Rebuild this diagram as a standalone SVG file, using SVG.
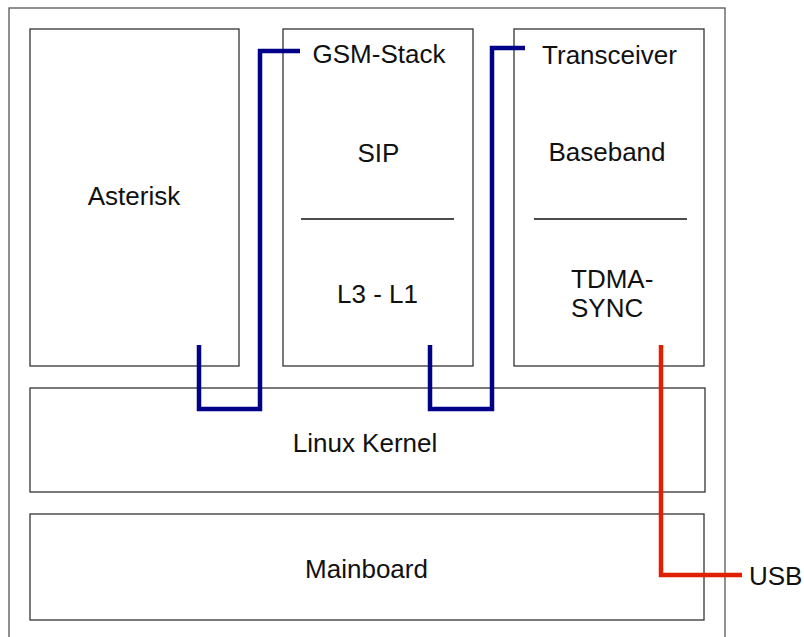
<svg xmlns="http://www.w3.org/2000/svg" width="804" height="637" viewBox="0 0 804 637">
<style>
.box{fill:#fff;stroke:#333;stroke-width:1.3}
.frame{fill:#fff;stroke:#555;stroke-width:1.3}
.div{stroke:#111;stroke-width:1.3}
text{font-family:"Liberation Sans",Arial,sans-serif;font-size:26px;fill:#111}
.c{text-anchor:middle}
.blue{fill:none;stroke:#000088;stroke-width:4.5}
.red{fill:none;stroke:#e02000;stroke-width:4.5}
</style>
<rect width="804" height="637" fill="#fff"/>
<g id="frame"><rect class="frame" x="9" y="8" width="716" height="640"/></g>
<g id="asterisk"><rect class="box" x="30" y="29" width="209" height="337"/><text class="c" x="134" y="205">Asterisk</text></g>
<g id="gsm-stack"><rect class="box" x="283" y="29" width="190" height="337"/>
<text class="c" x="379" y="63">GSM-Stack</text>
<text class="c" x="378.5" y="162">SIP</text>
<line class="div" x1="301" y1="219" x2="454" y2="219"/>
<text class="c" x="377.5" y="303">L3 - L1</text></g>
<g id="transceiver"><rect class="box" x="514" y="29" width="190" height="337"/>
<text class="c" x="609.5" y="64">Transceiver</text>
<text class="c" x="607" y="161">Baseband</text>
<line class="div" x1="534" y1="219" x2="687" y2="219"/>
<text x="571" y="288">TDMA-</text>
<text x="571" y="317">SYNC</text></g>
<g id="linux-kernel"><rect class="box" x="30" y="388" width="675" height="104"/><text class="c" x="365" y="452">Linux Kernel</text></g>
<g id="mainboard"><rect class="box" x="30" y="514" width="674" height="106"/><text class="c" x="366.5" y="578">Mainboard</text></g>
<g id="connectors">
<polyline class="blue" points="199,345 199,409 260,409 260,51 300,51"/>
<polyline class="blue" points="430,345 430,409 492,409 492,48 525,48"/>
<polyline class="red" points="661,345 661,575 742,575"/>
</g>
<g id="usb"><text x="749" y="585">USB</text></g>
</svg>
